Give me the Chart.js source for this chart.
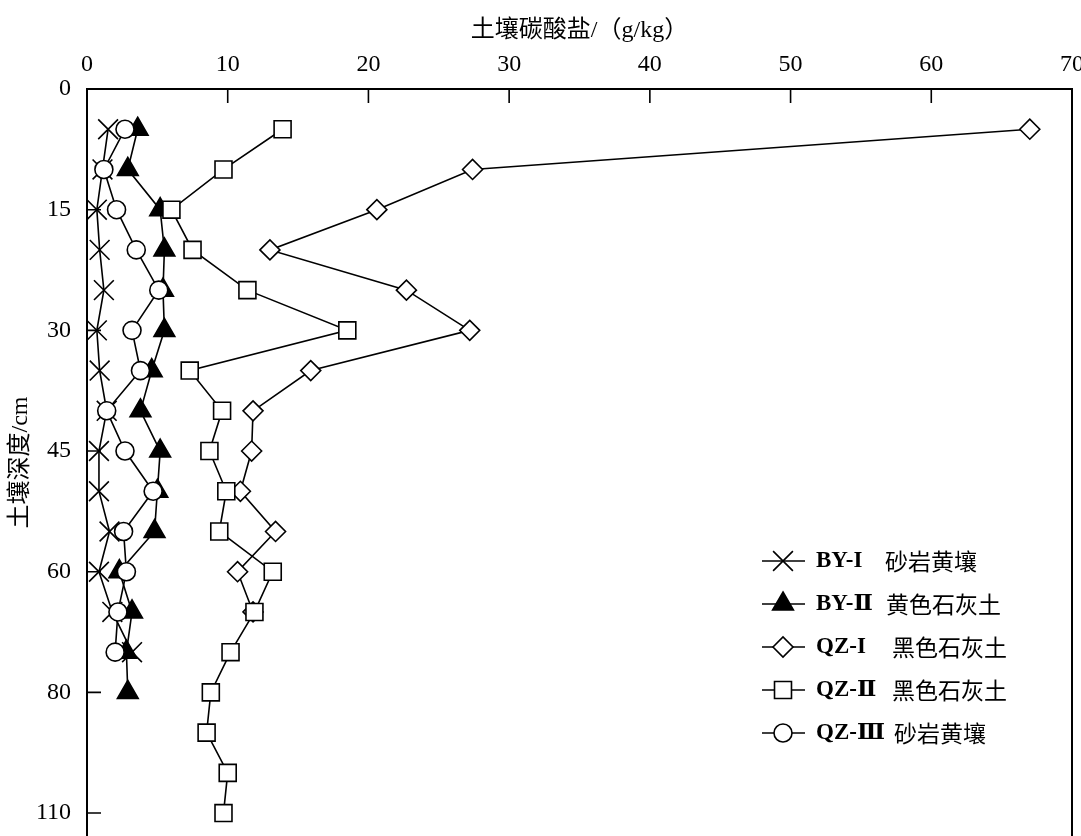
<!DOCTYPE html>
<html>
<head>
<meta charset="utf-8">
<script src="https://cdn.jsdelivr.net/npm/chart.js@4.4.1/dist/chart.umd.min.js"></script>
<style>
  html, body { margin: 0; padding: 0; background: #fff; overflow: hidden; }
  #wrap { width: 1081px; height: 836px; position: relative; }
</style>
</head>
<body>
<div id="wrap"><canvas id="chart" width="1081" height="836"></canvas></div>
<script>
// depth of each sampled layer (cm); plotted at equal spacing, one step per layer
var depths      = [5, 10, 15, 20, 25, 30, 35, 40, 45, 50, 55, 60, 65, 70, 80, 90, 100, 110];
var yTickDepths = [0, 15, 30, 45, 60, 80, 110];

var seriesNames = ['BY-I', 'BY-Ⅱ', 'QZ-I', 'QZ-Ⅱ', 'QZ-Ⅲ'];
var soilNames   = ['砂岩黄壤', '黄色石灰土', '黑色石灰土', '黑色石灰土', '砂岩黄壤'];

// soil carbonate, g/kg, top to bottom
var byI   = [1.5, 1.1, 0.7, 0.9, 1.2, 0.7, 0.9, 1.4, 0.85, 0.85, 1.6, 0.85, 1.8, 3.2];
var byII  = [3.6, 2.9, 5.2, 5.5, 5.4, 5.5, 4.6, 3.8, 5.2, 5.0, 4.8, 2.3, 3.2, 2.8, 2.9];
var qzI   = [67.0, 27.4, 20.6, 13.0, 22.7, 27.2, 15.9, 11.8, 11.7, 10.9, 13.4, 10.7, 11.8];
var qzII  = [13.9, 9.7, 6.0, 7.5, 11.4, 18.5, 7.3, 9.6, 8.7, 9.9, 9.4, 13.2, 11.9, 10.2, 8.8, 8.5, 10.0, 9.7];
var qzIII = [2.7, 1.2, 2.1, 3.5, 5.1, 3.2, 3.8, 1.4, 2.7, 4.7, 2.6, 2.8, 2.2, 2.0];

// depth -> position on the evenly spaced depth axis
function depthPos(d) { return d === 0 ? 0 : depths.indexOf(d) + 1; }

function toPoints(vals) {
    return vals.map(function (v, i) { return { x: v, y: depthPos(depths[i]) }; });
}

var serif = "'Liberation Serif', 'DejaVu Serif', 'Noto Sans CJK SC', serif";

// ── marker styles ───────────────────────────────────────────────────────────
var styles = [
    { pointStyle: 'crossRot', radius: 14, fill: '#000' },
    { pointStyle: 'triangle', radius: 12, fill: '#000' },
    { pointStyle: 'rectRot',  radius: 10, fill: '#fff' },
    { pointStyle: 'rect',     radius: 12, fill: '#fff' },
    { pointStyle: 'circle',   radius: 9,  fill: '#fff' }
];
var allData = [byI, byII, qzI, qzII, qzIII];

var datasets = allData.map(function (vals, i) {
    var s = styles[i];
    return {
        label: seriesNames[i],
        data: toPoints(vals),
        borderColor: '#000',
        borderWidth: 1.6,
        pointStyle: s.pointStyle,
        pointRadius: s.radius,
        pointBackgroundColor: s.fill,
        pointBorderColor: '#000',
        pointBorderWidth: 1.6,
        showLine: true,
        tension: 0,
        clip: false,
        order: 5 - i
    };
});

// ── own marker drawing for the legend ───────────────────────────────────────
function drawMarker(ctx, style, r, x, y, fill) {
    ctx.beginPath();
    if (style === 'crossRot') {
        var o = Math.SQRT1_2 * r;
        ctx.moveTo(x - o, y - o); ctx.lineTo(x + o, y + o);
        ctx.moveTo(x + o, y - o); ctx.lineTo(x - o, y + o);
        ctx.stroke();
        return;
    }
    if (style === 'triangle') {
        var h = r * Math.sqrt(3) / 2;
        ctx.moveTo(x, y - r); ctx.lineTo(x + h, y + r / 2); ctx.lineTo(x - h, y + r / 2);
        ctx.closePath();
    } else if (style === 'rectRot') {
        ctx.moveTo(x - r, y); ctx.lineTo(x, y - r); ctx.lineTo(x + r, y); ctx.lineTo(x, y + r);
        ctx.closePath();
    } else if (style === 'rect') {
        var s = Math.SQRT1_2 * r;
        ctx.rect(x - s, y - s, 2 * s, 2 * s);
    } else {
        ctx.arc(x, y, r, 0, Math.PI * 2);
    }
    ctx.fillStyle = fill;
    ctx.fill();
    ctx.stroke();
}

var frameAndLegend = {
    id: 'frameAndLegend',
    afterDraw: function (chart) {
        var ctx = chart.ctx, a = chart.chartArea;
        var xs = chart.scales.x, ys = chart.scales.y;
        ctx.save();
        ctx.strokeStyle = '#000';
        ctx.lineWidth = 1.6;
        // inward tick marks
        ctx.beginPath();
        xs.ticks.forEach(function (t) {
            var px = xs.getPixelForValue(t.value);
            ctx.moveTo(px, a.top); ctx.lineTo(px, a.top + 14);
        });
        ys.ticks.forEach(function (t) {
            var py = ys.getPixelForValue(t.value);
            ctx.moveTo(a.left, py); ctx.lineTo(a.left + 14, py);
        });
        ctx.stroke();

        // legend inside plot, lower right
        var lx = 762, ly = 561, gap = 43;
        var nameX = [885, 886, 892, 892, 894];
        ctx.textBaseline = 'middle';
        datasets.forEach(function (ds, i) {
            var y = ly + i * gap;
            ctx.lineWidth = 1.6;
            ctx.beginPath();
            ctx.moveTo(lx, y); ctx.lineTo(lx + 43, y);
            ctx.stroke();
            drawMarker(ctx, styles[i].pointStyle, styles[i].radius, lx + 21, y, styles[i].fill);
            ctx.fillStyle = '#000';
            ctx.font = 'bold 23px ' + serif;
            ctx.fillText(seriesNames[i], 816, y);
            ctx.font = "23px 'Noto Sans CJK SC', sans-serif";
            ctx.fillText(soilNames[i], nameX[i], y);
        });
        ctx.restore();
    }
};

var tickFont = { family: serif, size: 24 };

new Chart(document.getElementById('chart'), {
    type: 'scatter',
    data: { datasets: datasets },
    options: {
        responsive: false,
        animation: false,
        layout: { autoPadding: false, padding: { left: 0, right: 9, top: 0, bottom: 0 } },
        plugins: {
            legend: { display: false },
            tooltip: { enabled: false }
        },
        scales: {
            x: {
                type: 'linear',
                position: 'top',
                min: 0,
                max: 70,
                ticks: { stepSize: 10, color: '#000', font: tickFont, padding: 2, maxRotation: 0 },
                grid: { display: false },
                border: { display: true, color: '#000', width: 2 },
                title: {
                    display: true,
                    text: '土壤碳酸盐/（g/kg）',
                    color: '#000',
                    font: { family: serif, size: 24 },
                    padding: { top: 16, bottom: 0 }
                },
                afterFit: function (s) {
                    s.height = 89;
                    s.paddingLeft = 0; s.paddingRight = 0;
                }
            },
            y: {
                type: 'linear',
                position: 'left',
                reverse: true,
                min: 0,
                max: 18.57,
                afterBuildTicks: function (s) {
                    s.ticks = yTickDepths.map(function (d) { return { value: depthPos(d) }; });
                },
                ticks: {
                    color: '#000',
                    font: tickFont,
                    padding: 8,
                    callback: function (v) {
                        var i = yTickDepths.map(depthPos).indexOf(v);
                        return i < 0 ? '' : String(yTickDepths[i]);
                    }
                },
                grid: { display: false },
                border: { display: true, color: '#000', width: 2 },
                title: {
                    display: true,
                    text: '土壤深度/cm',
                    color: '#000',
                    font: { family: serif, size: 24 },
                    padding: { top: 6, bottom: 0 }
                },
                afterFit: function (s) {
                    s.width = 87;
                    s.paddingTop = 0; s.paddingBottom = 0;
                }
            },
            y2: {
                type: 'linear',
                position: 'right',
                display: true,
                min: 0,
                max: 1,
                ticks: { display: false },
                grid: { display: false },
                border: { display: true, color: '#000', width: 2 },
                afterFit: function (s) {
                    s.width = 0;
                    s.paddingTop = 0; s.paddingBottom = 0;
                }
            }
        }
    },
    plugins: [frameAndLegend]
});
</script>
</body>
</html>
